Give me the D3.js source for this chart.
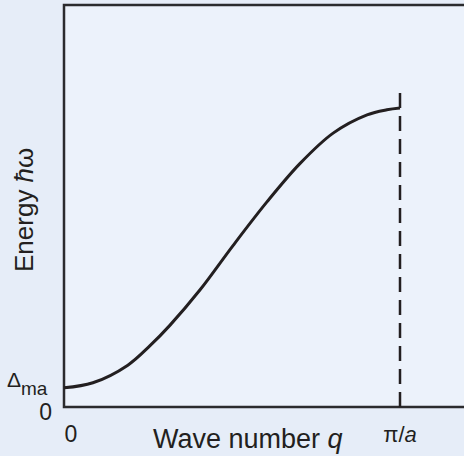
<!DOCTYPE html>
<meta charset="utf-8">
<style>
    html, body { margin: 0; padding: 0; background: #e6edf8; }
    svg { display: block; font-family: "Liberation Sans", Arial, sans-serif; }
    .frame { stroke: #2b2b2e; stroke-width: 2.5; fill: none; }
    .curve { fill: none; stroke: #231f20; stroke-width: 3; }
    .zone { stroke: #231f20; stroke-width: 2.5; stroke-dasharray: 15, 8; }
    .lbl { fill: #231f20; }
</style>
<svg width="464" height="456"></svg>
<script src="https://d3js.org/d3.v7.min.js"></script>
<script>
    // wave number in units of pi/a, energy normalised to the zone-boundary value
    var qVals = [0, 0.086, 0.19, 0.256, 0.315, 0.405, 0.503, 0.604, 0.702, 0.801, 0.902, 0.961, 1.0];
    var eVals = [0.064, 0.081, 0.140, 0.205, 0.273, 0.392, 0.540, 0.686, 0.814, 0.916, 0.977, 0.994, 1.0];
    var gap = 0.064;          // Delta_ma
    var zoneEdge = 1.0;       // pi/a
    var zoneTop = 1.05;

    var svg = d3.select("svg"),
        width = +svg.attr("width"),
        height = +svg.attr("height");

    var x = d3.scaleLinear().domain([0, 1]).range([64, 400]);
    var y = d3.scaleLinear().domain([0, 1]).range([407, 108]);
    var plotTop = 5;

    // plot area
    svg.append("rect")
        .attr("x", x(0)).attr("y", plotTop)
        .attr("width", width - x(0)).attr("height", y(0) - plotTop)
        .attr("fill", "#ecf2fb");

    svg.append("path")
        .attr("class", "frame")
        .attr("d", "M" + width + "," + plotTop + "H" + x(0) + "V" + y(0) + "H" + width);

    // zone boundary
    svg.append("line")
        .attr("class", "zone")
        .attr("x1", x(zoneEdge)).attr("x2", x(zoneEdge))
        .attr("y1", y(zoneTop)).attr("y2", y(0));

    var data = qVals.map(function(q, i) { return [q, eVals[i]]; });
    var line = d3.line()
        .x(function(d) { return x(d[0]); })
        .y(function(d) { return y(d[1]); })
        .curve(d3.curveCatmullRom);

    svg.append("path")
        .datum(data)
        .attr("class", "curve")
        .attr("d", line);

    // tick labels
    svg.append("text").attr("class", "lbl")
        .attr("x", x(0) + 7).attr("y", 442)
        .attr("text-anchor", "middle").style("font-size", "23px")
        .text("0");
    var pa = svg.append("text").attr("class", "lbl")
        .attr("x", x(zoneEdge)).attr("y", 442)
        .attr("text-anchor", "middle").style("font-size", "22px");
    pa.append("tspan").text("π/");
    pa.append("tspan").style("font-style", "italic").text("a");

    svg.append("text").attr("class", "lbl")
        .attr("x", 52).attr("y", 420)
        .attr("text-anchor", "end").style("font-size", "23px")
        .text("0");
    var dl = svg.append("text").attr("class", "lbl")
        .attr("x", 7).attr("y", y(gap) - 1)
        .style("font-size", "21px");
    dl.append("tspan").text("Δ");
    dl.append("tspan").attr("dy", 8).style("font-size", "19px").text("ma");

    // axis titles
    var xt = svg.append("text").attr("class", "lbl")
        .attr("x", 153).attr("y", 448)
        .style("font-size", "27px");
    xt.append("tspan").text("Wave number ");
    xt.append("tspan").style("font-style", "italic").text("q");

    var yt = svg.append("text").attr("class", "lbl")
        .attr("transform", "translate(33,272) rotate(-90)")
        .style("font-size", "26px");
    yt.append("tspan").text("Energy ");
    yt.append("tspan").style("font-style", "italic").text("ħ");
    yt.append("tspan").text("ω");
</script>
